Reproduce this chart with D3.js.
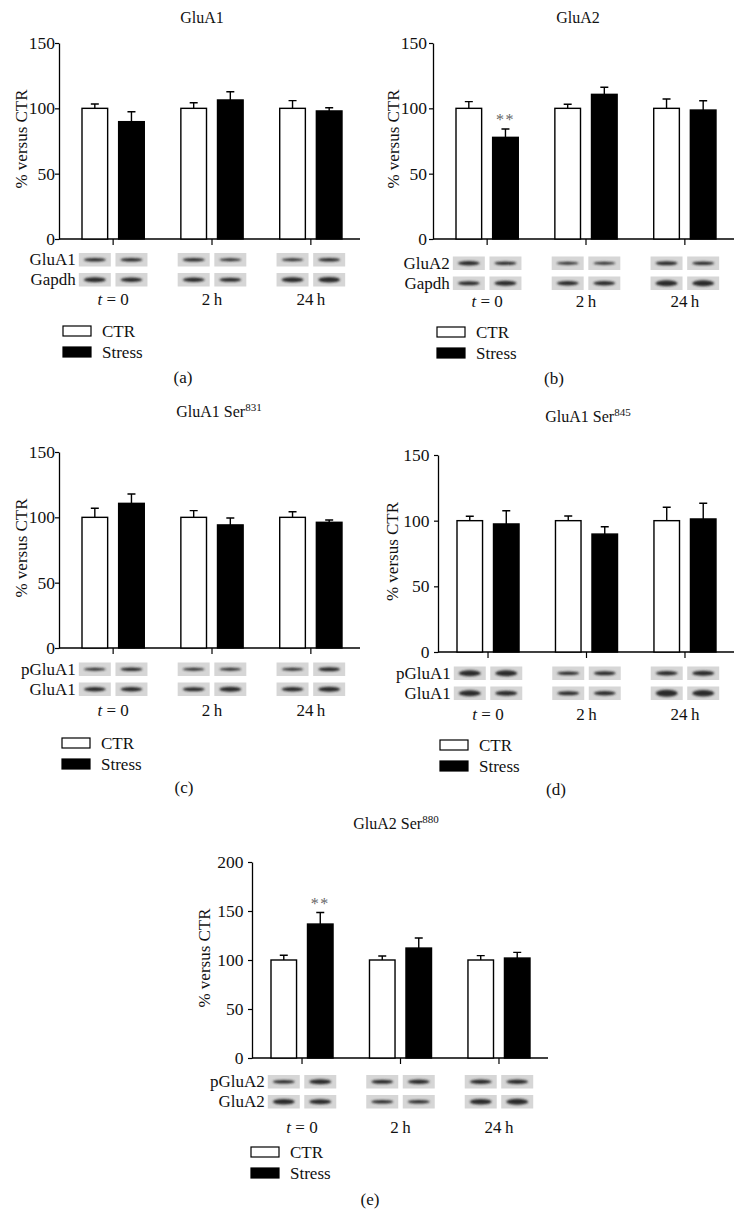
<!DOCTYPE html>
<html>
<head>
<meta charset="utf-8">
<script src="https://cdn.jsdelivr.net/npm/d3@7"></script>
<style>
body { margin: 0; background: #fff; }
text { font-family: "Liberation Serif", "Times New Roman", serif; fill: #111; }
</style>
</head>
<body>
<div id="chart"></div>
<script>
// data
var groups = ["t = 0", "2 h", "24 h"];
var series = ["CTR", "Stress"];
var titleBase = ["GluA1", "GluA2", "GluA1 Ser", "GluA1 Ser", "GluA2 Ser"];
var titleSup = ["", "", "831", "845", "880"];
var panelLetters = ["(a)", "(b)", "(c)", "(d)", "(e)"];
var yMax = [150, 150, 150, 150, 200];

var ctrMean = [[100, 100, 100], [100, 100, 100], [100, 100, 100], [100, 100, 100], [100, 100, 100]];
var ctrErr = [[3.3, 4.3, 5.9], [5.1, 3.1, 7.1], [6.9, 5.1, 4.3], [3.4, 3.6, 10.2], [4.8, 4.1, 4.5]];
var stressMean = [[89.8, 106.4, 98.0], [77.8, 110.7, 98.7], [110.7, 94.2, 96.2], [97.5, 89.8, 101.3], [136.7, 112.2, 102.0]];
var stressErr = [[7.6, 6.3, 2.5], [6.4, 5.4, 7.1], [7.2, 5.3, 1.8], [10.1, 5.6, 12.0], [11.7, 10.2, 5.8]];
var signif = [["", "", ""], ["**", "", ""], ["", "", ""], ["", "", ""], ["**", "", ""]];

var blotRows = [["GluA1", "Gapdh"], ["GluA2", "Gapdh"], ["pGluA1", "GluA1"], ["pGluA1", "GluA1"], ["pGluA2", "GluA2"]];
// band thickness per lane: CTR t0, Stress t0, CTR 2h, Stress 2h, CTR 24h, Stress 24h
var bandSize = [
  [[3.5, 3.5, 3.5, 3, 3, 3.5], [5, 4.5, 4.5, 4, 5, 5.5]],
  [[4.5, 3.5, 3, 3, 4, 3.5], [4, 5, 4.5, 4.5, 6, 6]],
  [[3, 3.5, 3, 3, 3, 4], [4.5, 4.5, 4, 5, 4.5, 5]],
  [[6, 6, 3.5, 4, 4.5, 5], [6, 5, 4, 4.5, 7, 6.5]],
  [[3.5, 5, 4, 4.5, 4.5, 4.5], [5.5, 5, 3.5, 3.5, 5.5, 6]]
];

// panel placement
var layout = [
  {left: 59, right: 360, top: 43, bottom: 239, padL: 23, titleX: 202, titleY: 23, yLab: -32.5, tickGap: 4, rows: [14, 34], grpY: 66, legX: 4, legY: 87, letterX: 183, letterY: 144},
  {left: 433, right: 734, top: 43, bottom: 239, padL: 23, titleX: 578, titleY: 23, yLab: -34, tickGap: 6, rows: [17.5, 37.5], grpY: 67.5, legX: 4, legY: 88, letterX: 554, letterY: 145},
  {left: 59, right: 360, top: 452, bottom: 648, padL: 23, titleX: 219, titleY: 417, yLab: -32.5, tickGap: 4, rows: [14.5, 34.5], grpY: 68, legX: 3, legY: 90, letterX: 184, letterY: 145},
  {left: 438, right: 734, top: 455, bottom: 652, padL: 19, titleX: 588, titleY: 422, yLab: -40, tickGap: 8.5, rows: [14.5, 34.5], grpY: 68, legX: 2, legY: 88, letterX: 556, letterY: 143},
  {left: 252, right: 548, top: 862, bottom: 1058, padL: 19, titleX: 396, titleY: 829, yLab: -42, tickGap: 8.5, rows: [17, 37], grpY: 75, legX: -1, legY: 89, letterX: 370, letterY: 147}
];

var W = 745, H = 1217;
var svg = d3.select("#chart").append("svg")
  .attr("width", W)
  .attr("height", H);

svg.append("defs").append("filter")
  .attr("id", "soft")
  .attr("x", "-30%").attr("y", "-100%").attr("width", "160%").attr("height", "300%")
  .append("feGaussianBlur")
  .attr("stdDeviation", 1);

layout.forEach(function(L, p) {
  var g = svg.append("g");

  var rows = groups.map(function(grp, i) {
    return {group: grp, i: i, ctr: ctrMean[p][i], ctrE: ctrErr[p][i], st: stressMean[p][i], stE: stressErr[p][i], sig: signif[p][i]};
  });

  var y = d3.scaleLinear().domain([0, yMax[p]]).range([L.bottom, L.top]);
  var x0 = d3.scaleBand().domain(groups).range([L.left + L.padL, L.right - 18]).paddingInner(0.37).paddingOuter(0);
  var x1 = d3.scaleBand().domain(series).range([0, x0.bandwidth()]).paddingInner(0.3);

  // title
  var t = g.append("text")
    .attr("x", L.titleX)
    .attr("y", L.titleY)
    .attr("text-anchor", "middle")
    .style("font-size", "16px");
  t.append("tspan").text(titleBase[p]);
  if (titleSup[p]) {
    t.append("tspan").attr("dy", -6).style("font-size", "11px").text(titleSup[p]);
  }

  // y axis
  var ya = g.append("g")
    .attr("transform", "translate(" + L.left + ",0)")
    .call(d3.axisLeft(y).tickValues(d3.range(0, yMax[p] + 1, 50)).tickSize(4).tickPadding(L.tickGap - 4).tickSizeOuter(0))
    .attr("font-family", "Liberation Serif");
  ya.select(".domain").attr("stroke-width", 1.3);
  ya.selectAll(".tick line").attr("stroke-width", 1.2);
  ya.selectAll("text")
    .style("font-family", "'Liberation Serif', serif")
    .style("font-size", "17.5px")
    .attr("fill", "#111");

  g.append("text")
    .attr("transform", "translate(" + (L.left + L.yLab) + "," + ((L.top + L.bottom) / 2 - 2) + ") rotate(-90)")
    .attr("text-anchor", "middle")
    .style("font-size", "17px")
    .text("% versus CTR");

  // x axis
  var xa = g.append("g")
    .attr("transform", "translate(0," + L.bottom + ")")
    .call(d3.axisBottom(x0).tickSize(6).tickSizeOuter(0).tickFormat(""));
  xa.select(".domain").remove();
  xa.selectAll(".tick line").attr("stroke-width", 1.2);
  g.append("line")
    .attr("x1", L.left).attr("x2", L.right)
    .attr("y1", L.bottom).attr("y2", L.bottom)
    .attr("stroke", "#000").attr("stroke-width", 1.3);

  // error bars (upper only)
  var bars = [];
  rows.forEach(function(d) {
    bars.push({group: d.group, s: "CTR", v: d.ctr, e: d.ctrE, sig: ""});
    bars.push({group: d.group, s: "Stress", v: d.st, e: d.stE, sig: d.sig});
  });
  var cx = function(d) { return x0(d.group) + x1(d.s) + x1.bandwidth() / 2; };

  g.selectAll(".err")
    .data(bars)
    .enter()
    .append("path")
    .attr("class", "err")
    .attr("d", function(d) {
      var c = cx(d), t0 = y(d.v), t1 = y(d.v + d.e);
      return "M" + c + "," + t0 + "V" + t1 + "M" + (c - 4) + "," + t1 + "H" + (c + 4);
    })
    .attr("fill", "none")
    .attr("stroke", "#000")
    .attr("stroke-width", 1.4);

  g.selectAll(".bar")
    .data(bars)
    .enter()
    .append("rect")
    .attr("class", "bar")
    .attr("x", function(d) { return x0(d.group) + x1(d.s); })
    .attr("y", function(d) { return y(d.v); })
    .attr("width", x1.bandwidth())
    .attr("height", function(d) { return L.bottom - y(d.v); })
    .attr("fill", function(d) { return d.s === "CTR" ? "#fff" : "#000"; })
    .attr("stroke", "#000")
    .attr("stroke-width", 1.4);

  g.selectAll(".sig")
    .data(bars.filter(function(d) { return d.sig; }))
    .enter()
    .append("text")
    .attr("class", "sig")
    .attr("x", cx)
    .attr("y", function(d) { return y(d.v + d.e) - 4; })
    .attr("text-anchor", "middle")
    .style("fill", "#666")
    .style("font-size", "16px")
    .style("letter-spacing", "1.5px")
    .text(function(d) { return d.sig; });

  // western blot strips
  blotRows[p].forEach(function(name, r) {
    var top = L.bottom + L.rows[r];
    g.selectAll(".lane" + r)
      .data(bars)
      .enter()
      .append("rect")
      .attr("x", function(d) { return cx(d) - 16; })
      .attr("y", top)
      .attr("width", 32)
      .attr("height", 13.5)
      .attr("fill", "#d6d6d6");
    g.selectAll(".band" + r)
      .data(bars)
      .enter()
      .append("ellipse")
      .attr("cx", cx)
      .attr("cy", top + 6.75)
      .attr("rx", 11)
      .attr("ry", function(d, i) { return bandSize[p][r][i] / 2; })
      .attr("fill", "#2b2b2b")
      .attr("filter", "url(#soft)");
    g.append("text")
      .attr("x", cx(bars[0]) - 19)
      .attr("y", top + 12)
      .attr("text-anchor", "end")
      .style("font-size", "17px")
      .text(name);
  });

  // time labels
  groups.forEach(function(grp) {
    var tx = g.append("text")
      .attr("x", x0(grp) + x0.bandwidth() / 2)
      .attr("y", L.bottom + L.grpY)
      .attr("text-anchor", "middle")
      .style("font-size", "17px");
    if (grp.indexOf("=") > 0) {
      tx.append("tspan").style("font-style", "italic").text("t");
      tx.append("tspan").text(grp.slice(1));
    } else {
      tx.text(grp.replace(" ", "\u2009"));
    }
  });

  // legend
  series.forEach(function(s, i) {
    var ly = L.bottom + L.legY + i * 21;
    g.append("rect")
      .attr("x", L.left + L.legX)
      .attr("y", ly)
      .attr("width", 28)
      .attr("height", 10)
      .attr("fill", s === "CTR" ? "#fff" : "#000")
      .attr("stroke", "#000")
      .attr("stroke-width", 1.2);
    g.append("text")
      .attr("x", L.left + L.legX + 39)
      .attr("y", ly + 11)
      .style("font-size", "17px")
      .text(s);
  });

  g.append("text")
    .attr("x", L.letterX)
    .attr("y", L.bottom + L.letterY)
    .attr("text-anchor", "middle")
    .style("font-size", "17px")
    .text(panelLetters[p]);
});
</script>
</body>
</html>
